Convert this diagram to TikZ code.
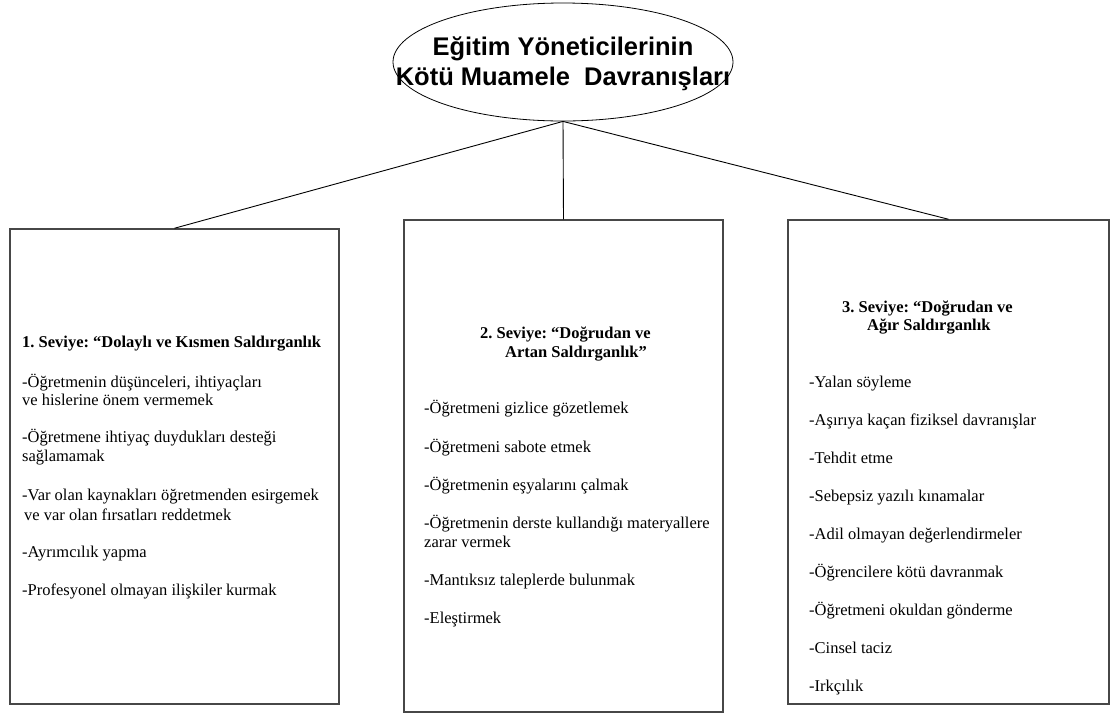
\documentclass[tikz,border=0pt]{standalone}
\usepackage{fontspec}
\setmainfont{Liberation Serif}
\newfontfamily\headfont{Liberation Sans}
\usetikzlibrary{shapes.geometric}
\frenchspacing

\tikzset{
  topnode/.style={ellipse, draw=black, line width=0.8pt, minimum width=340pt,
    minimum height=118pt, inner sep=0pt},
  toptext/.style={anchor=base, inner sep=0pt,
    font=\headfont\bfseries\fontsize{25.5}{30}\selectfont},
  levelbox/.style={rectangle, draw=black!72, line width=1.5pt, inner sep=0pt},
  link/.style={draw=black, line width=0.9pt},
  item/.style={anchor=base west, inner sep=0pt,
    font=\fontsize{16.5}{19}\selectfont},
  head/.style={item, font=\bfseries\fontsize{16.5}{19}\selectfont}
}

\begin{document}
\begin{tikzpicture}[x=1pt,y=-1pt]
\useasboundingbox (0,0) rectangle (1113,713);

% root of the hierarchy
\node[topnode] (top) at (563,62) {};
\node[toptext] (t1) at (563,55) {Eğitim Yöneticilerinin};
\node[toptext] (t2) at (563,85) {Kötü Muamele\ \ Davranışları};

% the three levels
\node[levelbox, minimum width=329pt, minimum height=475pt] (lv1) at (174.5,466.5) {};
\node[levelbox, minimum width=319pt, minimum height=492pt] (lv2) at (563.5,466) {};
\node[levelbox, minimum width=321pt, minimum height=484pt] (lv3) at (948.5,462) {};

\draw[link] (top.south) -- (lv1.north);
\draw[link] (top.south) -- (lv2.north);
\draw[link] (top.south) -- (lv3.north);

% level 1
\node[head] (h1) at (22,347) {1. Seviye: “Dolaylı ve Kısmen Saldırganlık};
\node[item] (a1) at (22,387) {-Öğretmenin düşünceleri, ihtiyaçları};
\node[item] (a1b) at (22,405) {ve hislerine önem vermemek};
\node[item] (a2) at (22,442) {-Öğretmene ihtiyaç duydukları desteği};
\node[item] (a2b) at (22,461) {sağlamamak};
\node[item] (a3) at (22,500) {-Var olan kaynakları öğretmenden esirgemek};
\node[item] (a3b) at (24,520) {ve var olan fırsatları reddetmek};
\node[item] (a4) at (22,557) {-Ayrımcılık yapma};
\node[item] (a5) at (22,595) {-Profesyonel olmayan ilişkiler kurmak};

% level 2
\node[head] (h2) at (480,338) {2. Seviye: “Doğrudan ve};
\node[head] (h2b) at (505,357) {Artan Saldırganlık”};
\node[item] (b1) at (424,413) {-Öğretmeni gizlice gözetlemek};
\node[item] (b2) at (424,452) {-Öğretmeni sabote etmek};
\node[item] (b3) at (424,490) {-Öğretmenin eşyalarını çalmak};
\node[item] (b4) at (424,528) {-Öğretmenin derste kullandığı materyallere};
\node[item] (b4b) at (424,547) {zarar vermek};
\node[item] (b5) at (424,585) {-Mantıksız taleplerde bulunmak};
\node[item] (b6) at (424,623) {-Eleştirmek};

% level 3
\node[head] (h3) at (842,312) {3. Seviye: “Doğrudan ve};
\node[head] (h3b) at (867,330) {Ağır Saldırganlık};
\node[item] (c1) at (809,387) {-Yalan söyleme};
\node[item] (c2) at (809,425) {-Aşırıya kaçan fiziksel davranışlar};
\node[item] (c3) at (809,463) {-Tehdit etme};
\node[item] (c4) at (809,501) {-Sebepsiz yazılı kınamalar};
\node[item] (c5) at (809,539) {-Adil olmayan değerlendirmeler};
\node[item] (c6) at (809,577) {-Öğrencilere kötü davranmak};
\node[item] (c7) at (809,615) {-Öğretmeni okuldan gönderme};
\node[item] (c8) at (809,653) {-Cinsel taciz};
\node[item] (c9) at (809,691) {-Irkçılık};
\end{tikzpicture}
\end{document}
